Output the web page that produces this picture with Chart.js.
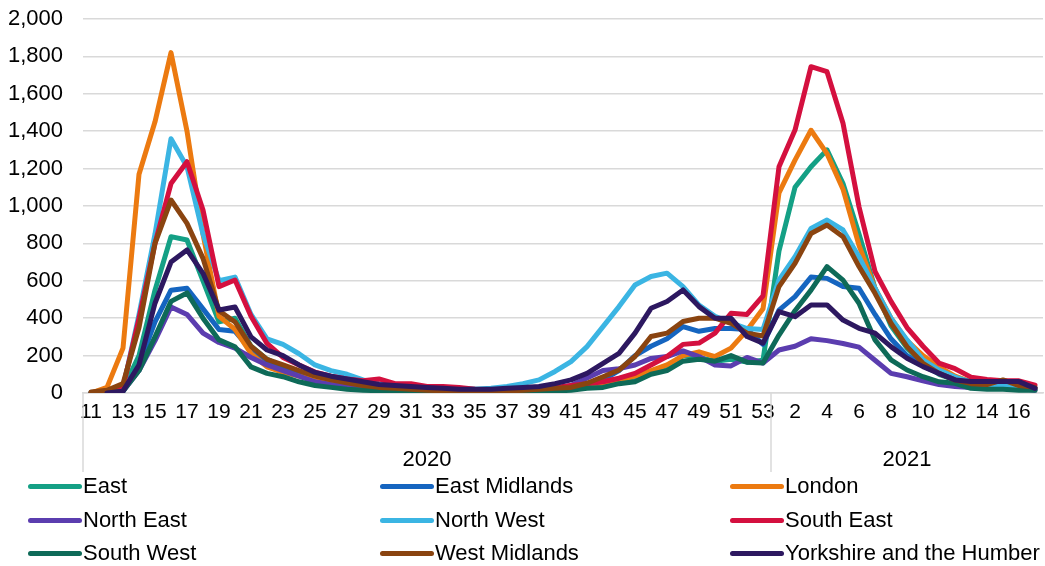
<!DOCTYPE html>
<html><head><meta charset="utf-8">
<script src="https://cdn.jsdelivr.net/npm/chart.js@4/dist/chart.umd.min.js"></script>
<style>
html,body{margin:0;padding:0;background:#fff;}
#wrap{position:relative;width:1045px;height:566px;overflow:hidden;}
#c{position:absolute;left:0;top:0;}
.item{position:absolute;font-family:'Liberation Sans',Arial,sans-serif;font-size:22px;color:#000;white-space:nowrap;line-height:24px;}
.item .sw{display:inline-block;width:54px;height:5px;border-radius:3px;vertical-align:middle;margin-right:1px;position:relative;top:-1px;}
</style></head><body>
<div id="wrap"><canvas id="c" width="1045" height="566"></canvas><div id="legend"></div></div>
<script>
// Tick labels (ISO week numbers)
const weeks2020 = ['11','12','13','14','15','16','17','18','19','20','21','22','23','24','25','26','27','28','29','30','31','32','33','34','35','36','37','38','39','40','41','42','43','44','45','46','47','48','49','50','51','52','53'];
const weeks2021 = ['1','2','3','4','5','6','7','8','9','10','11','12','13','14','15','16','17'];
const years = ['2020','2021'];
const yTicks = [0,200,400,600,800,1000,1200,1400,1600,1800,2000];

// Series values (2020 wk11..wk53, then 2021 wk1..wk17)
const east = [0,0,20,200,550,836,818,600,380,400,250,180,140, 110,80,55,40,30,25,20,15,12,10,10,8,8,8,10,12,15, 20,30,40,55,70,110,140,200,190,170,180,165,175,
  760,1100,1210,1300,1120,850,560,360,240,160,100,70,45,35,30,25,20];
const eastMidlands = [0,0,10,150,380,550,560,450,340,330,230,170,130, 100,75,55,40,30,25,20,15,15,12,10,10,10,10,12,15,20, 25,40,70,120,200,250,290,355,330,345,345,340,260,
  443,515,620,613,570,560,420,290,200,145,105,70,50,40,35,30,25];
const london = [0,30,240,1170,1450,1820,1400,850,410,340,210,140,110, 90,70,55,40,30,25,20,20,15,15,15,10,10,10,15,20,25, 35,45,55,70,90,120,150,200,220,195,240,335,450,
  1070,1245,1405,1280,1090,790,560,400,280,200,140,90,60,45,40,35,25];
const northEast = [0,0,10,120,280,460,420,320,270,240,190,150,120, 90,60,45,35,25,20,15,12,10,10,10,10,10,10,12,15,20, 40,80,120,130,150,185,195,225,195,150,145,190,160,
  230,250,290,280,265,245,175,105,87,65,45,35,30,25,25,25,15];
const northWest = [0,5,25,420,850,1360,1210,850,600,620,420,290,260, 210,150,120,100,70,50,40,35,30,25,25,20,25,35,50,70,115, 168,248,355,462,578,623,641,569,470,410,375,345,340,
  605,729,880,925,872,729,560,400,284,177,123,85,60,45,40,35,30];
const southEast = [0,5,30,400,800,1120,1237,979,569,604,410,265,190, 150,112,90,75,65,75,50,50,35,35,30,20,15,15,20,25,30, 40,50,60,79,105,150,195,260,267,320,426,420,520,
  1210,1406,1745,1718,1442,996,650,490,350,250,160,130,85,72,65,65,42];
const southWest = [0,0,10,120,300,490,535,400,284,247,140,105,87, 60,40,30,20,15,12,10,8,8,6,5,5,5,5,6,8,10, 15,25,30,50,60,100,120,170,180,170,200,165,160,
  310,440,550,676,604,480,284,177,123,87,60,52,25,20,20,15,15];
const westMidlands = [5,15,50,350,800,1032,907,720,440,380,250,180,150, 120,90,70,55,40,30,25,20,15,12,12,10,10,10,15,20,25, 30,52,87,123,195,302,320,382,400,400,373,320,305,
  569,693,853,898,836,676,533,373,248,159,105,70,50,45,70,40,30];
const yorkshire = [null,0,10,150,480,700,765,640,444,460,300,230,200, 150,110,90,75,60,45,40,35,30,25,20,20,20,25,30,35,50, 70,105,159,212,320,453,489,551,462,400,400,302,267,
  435,408,471,471,390,346,320,248,186,141,105,70,61,61,61,61,25];

const seriesNames = ['East','East Midlands','London','North East','North West','South East','South West','West Midlands','Yorkshire and the Humber'];
const seriesData = [east,eastMidlands,london,northEast,northWest,southEast,southWest,westMidlands,yorkshire];
const seriesColors = ['#14A085','#1565C0','#EC7A10','#5B3DAF','#3BB5E3','#D4103F','#0E6A58','#8A4410','#2D1860'];

const labels = weeks2020.concat(weeks2021);
const FONT = "'Liberation Sans', Arial, sans-serif";

const datasets = seriesNames.map((n,i)=>({
  label:n, data:seriesData[i], borderColor:seriesColors[i], backgroundColor:seriesColors[i],
  borderWidth:5, pointRadius:0, tension:0, fill:false, order:seriesNames.length-i,
  borderJoinStyle:'round', borderCapStyle:'round'
}));

const yearPlugin = {
  id:'years',
  afterDraw(chart){
    const ctx = chart.ctx, xs = chart.scales.x, ca = chart.chartArea;
    const half = (xs.getPixelForValue(1)-xs.getPixelForValue(0))/2;
    const left = xs.getPixelForValue(0)-half;
    const sep = xs.getPixelForValue(weeks2020.length)-half;
    const right = xs.getPixelForValue(labels.length-1)+half;
    ctx.save();
    ctx.strokeStyle='#d9d9d9'; ctx.lineWidth=1.5;
    [left,sep].forEach(x=>{ctx.beginPath();ctx.moveTo(x,ca.bottom);ctx.lineTo(x,ca.bottom+79);ctx.stroke();});
    ctx.fillStyle='#000'; ctx.font='22px '+FONT; ctx.textAlign='center'; ctx.textBaseline='middle';
    ctx.fillText(years[0],(left+sep)/2,ca.bottom+67);
    ctx.fillText(years[1],(sep+right)/2,ca.bottom+67);
    ctx.restore();
  }
};

new Chart(document.getElementById('c'),{
  type:'line',
  data:{labels, datasets},
  options:{
    responsive:false, animation:false, devicePixelRatio:1,
    layout:{padding:{top:19,right:2,bottom:93,left:0}},
    plugins:{legend:{display:false},tooltip:{enabled:false}},
    scales:{
      x:{type:'category',offset:true,
        grid:{display:false,drawTicks:false},
        border:{display:true,color:'#d9d9d9',width:1.5},
        ticks:{autoSkip:false,maxRotation:0,minRotation:0,padding:7,color:'#000',font:{size:21,family:FONT},
          callback:(v,i)=> i%2===0 ? labels[i] : ''},
        afterFit:(s)=>{s.height=80;}
      },
      y:{min:0,max:2000,
        afterBuildTicks:(s)=>{s.ticks=yTicks.map(v=>({value:v}));},
        grid:{color:'#d9d9d9',lineWidth:1.5,drawTicks:false},
        border:{display:false},
        ticks:{padding:20,color:'#000',font:{size:22,family:FONT},callback:(v)=>v.toLocaleString('en-US')},
        afterFit:(s)=>{s.width=83; s.paddingTop=0; s.paddingBottom=0;}
      }
    }
  },
  plugins:[yearPlugin]
});

// Legend (3 columns x 3 rows)
const lg = document.getElementById('legend');
const colX = [28,380,730], rowY = [474,508,541];
seriesNames.forEach((n,i)=>{
  const d=document.createElement('div'); d.className='item';
  d.style.left=colX[i%3]+'px'; d.style.top=rowY[Math.floor(i/3)]+'px';
  const s=document.createElement('span'); s.className='sw'; s.style.background=seriesColors[i];
  d.appendChild(s); d.appendChild(document.createTextNode(n)); lg.appendChild(d);
});
</script>
</body></html>
